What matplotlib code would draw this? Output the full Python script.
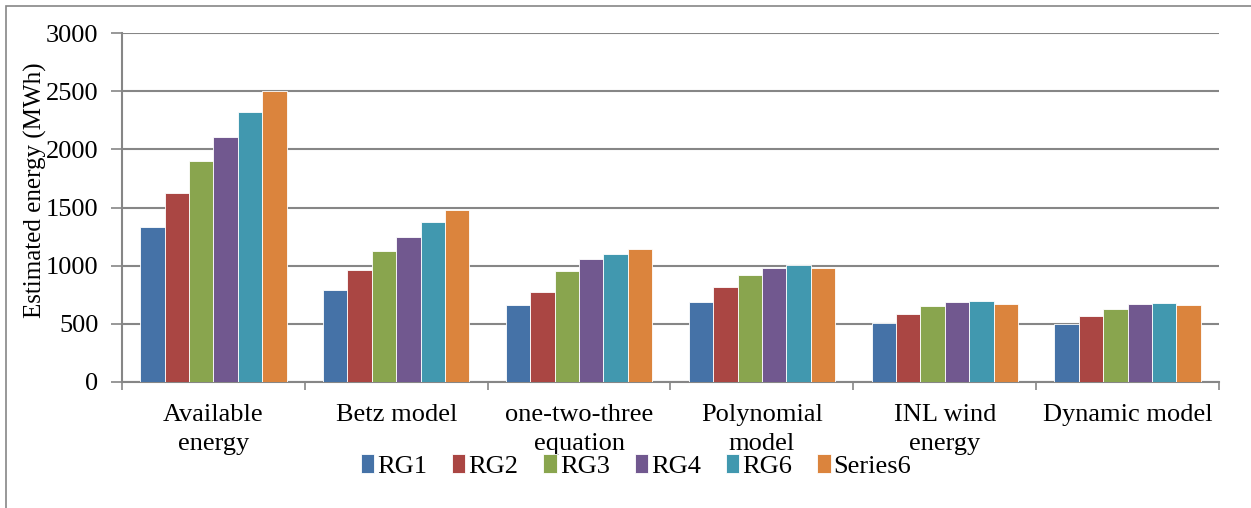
import matplotlib.pyplot as plt
import numpy as np
from matplotlib.patches import Rectangle

plt.rcParams['font.family'] = ['Liberation Serif', 'DejaVu Serif']

# categories and series
categories = ['Available\nenergy', 'Betz model', 'one-two-three\nequation',
              'Polynomial\nmodel', 'INL wind\nenergy', 'Dynamic model']
series_names = ['RG1', 'RG2', 'RG3', 'RG4', 'RG6', 'Series6']
rg1 = [1332, 788, 659, 687, 509, 497]
rg2 = [1625, 963, 771, 816, 583, 566]
rg3 = [1897, 1126, 951, 920, 652, 629]
rg4 = [2106, 1249, 1057, 983, 687, 670]
rg6 = [2324, 1378, 1100, 1006, 695, 678]
series6 = [2500, 1479, 1147, 983, 672, 658]
colors = ['#4572A7', '#AA4643', '#89A54E', '#71588F', '#4198AF', '#DB843D']

data = [rg1, rg2, rg3, rg4, rg6, series6]

fig = plt.figure(figsize=(12.51, 5.08), dpi=100)
ax = fig.add_axes([122 / 1251, 1 - 382 / 508, (1219 - 122) / 1251, (382 - 33) / 508])

# outer chart border
fig.patches.append(Rectangle((6 / 1251, -0.1), 1.2, 1 - 6 / 508 + 0.1,
                             transform=fig.transFigure, fill=False,
                             edgecolor='#868686', linewidth=1.2))

x = np.arange(len(categories))
n = len(data)
w = 0.8 / n
for i, (vals, name) in enumerate(zip(data, series_names)):
    ax.bar(x - 0.4 + w * (i + 0.5), vals, width=w, color=colors[i],
           edgecolor='white', linewidth=0.6, label=name, zorder=3)

ax.set_xlim(-0.5, len(categories) - 0.5)
ax.set_ylim(0, 3000)
ax.set_yticks(np.arange(0, 3001, 500))
ax.yaxis.grid(True, color='#868686', linewidth=1.5, zorder=0)
ax.set_axisbelow(True)

ax.set_xticks(x)
ax.set_xticklabels(categories, fontsize=19, linespacing=1.4)
ax.set_xticks(np.arange(-0.5, len(categories)), minor=True)
ax.tick_params(axis='x', which='major', length=0, pad=16)
ax.tick_params(axis='x', which='minor', length=6, color='#868686', width=1.2)
ax.tick_params(axis='y', length=8, color='#868686', width=1.2, labelsize=19, pad=9)

for s in ['top', 'right']:
    ax.spines[s].set_visible(False)
for s in ['left', 'bottom']:
    ax.spines[s].set_color('#868686')
    ax.spines[s].set_linewidth(1.5)

ax.set_ylabel('Estimated energy (MWh)', fontsize=18)
ax.yaxis.set_label_coords(-0.068, 0.55)

leg = fig.legend(loc='center', bbox_to_anchor=(636 / 1251, 1 - 466 / 508), ncol=6,
                 frameon=False, fontsize=19, handlelength=0.5, handleheight=0.7,
                 handletextpad=0.12, columnspacing=0.95, borderpad=0)

fig.savefig('out.png', dpi=100)
